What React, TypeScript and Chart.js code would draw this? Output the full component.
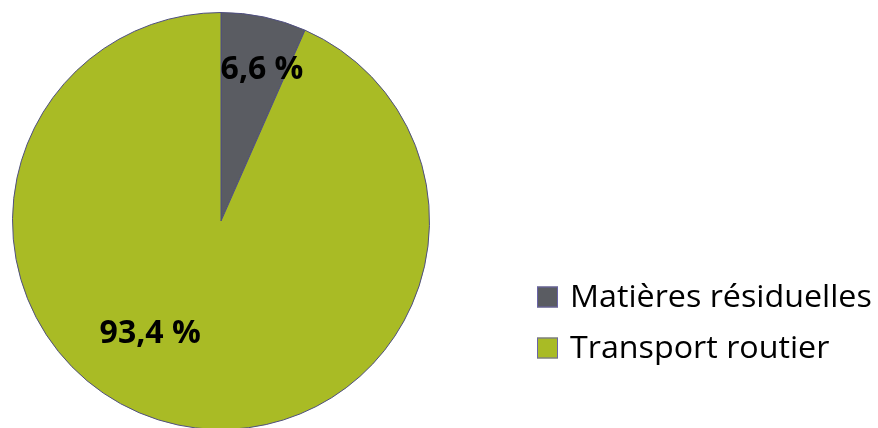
import React, { useEffect, useRef } from "react";
import { Chart, registerables } from "chart.js";

Chart.register(...registerables);

const categories = ["Matières résiduelles", "Transport routier"];
const values = [6.6, 93.4];
const valueLabels = ["6,6 %", "93,4 %"];
const colors = ["#5a5c62", "#a9bb25"];

// label placement: fraction across the slice's angle span, fraction of radius
const labelAngleFrac = [0.64, 0.56];
const labelRadiusFrac = [0.75, 0.64];

const labelPlugin = {
  id: "sliceLabels",
  afterDatasetsDraw(chart: any) {
    const ctx = chart.ctx;
    const meta = chart.getDatasetMeta(0);
    ctx.save();
    ctx.font = "bold 32px 'Open Sans'";
    ctx.fillStyle = "#000";
    ctx.textAlign = "center";
    ctx.textBaseline = "middle";
    meta.data.forEach((arc: any, i: number) => {
      const { x, y, startAngle, endAngle, outerRadius } = arc.getProps(
        ["x", "y", "startAngle", "endAngle", "outerRadius"],
        true
      );
      const a = startAngle + (endAngle - startAngle) * labelAngleFrac[i];
      const r = outerRadius * labelRadiusFrac[i];
      ctx.fillText(valueLabels[i], x + Math.cos(a) * r, y + Math.sin(a) * r);
    });
    ctx.restore();
  },
};

const legendPlugin = {
  id: "customLegend",
  afterDraw(chart: any) {
    const ctx = chart.ctx;
    const x0 = 537;
    const y0 = 297;
    const gap = 51;
    const box = 21;
    ctx.save();
    ctx.font = "31px 'Open Sans'";
    ctx.textBaseline = "middle";
    ctx.textAlign = "left";
    chart.data.labels.forEach((lab: string, i: number) => {
      const cy = y0 + i * gap;
      ctx.fillStyle = chart.data.datasets[0].backgroundColor[i];
      ctx.fillRect(x0, cy - box / 2, box, box);
      ctx.strokeStyle = "#6a64a8";
      ctx.lineWidth = 1;
      ctx.strokeRect(x0 + 0.5, cy - box / 2 + 0.5, box - 1, box - 1);
      ctx.fillStyle = "#000";
      ctx.save();
      ctx.translate(x0 + 33, cy + 1);
      ctx.scale(1.04, 1);
      ctx.fillText(lab, 0, 0);
      ctx.restore();
    });
    ctx.restore();
  },
};

export default function App() {
  const ref = useRef<HTMLCanvasElement>(null);
  useEffect(() => {
    if (!ref.current) return;
    const chart = new Chart(ref.current, {
      type: "pie",
      data: {
        labels: categories,
        datasets: [
          {
            data: values,
            backgroundColor: colors,
            borderColor: "#4f4f80",
            borderWidth: 1,
          },
        ],
      },
      options: {
        responsive: false,
        animation: false,
        layout: { padding: { left: 12, top: 12, right: 448, bottom: 10 } },
        plugins: {
          legend: { display: false },
          tooltip: { enabled: false },
        },
      },
      plugins: [labelPlugin, legendPlugin],
    });
    return () => chart.destroy();
  }, []);
  return (
    <div
      style={{
        position: "fixed",
        left: 0,
        top: 0,
        width: 878,
        height: 428,
        overflow: "hidden",
        background: "#fff",
      }}
    >
      <canvas ref={ref} width={878} height={440} style={{ display: "block" }} />
    </div>
  );
}
